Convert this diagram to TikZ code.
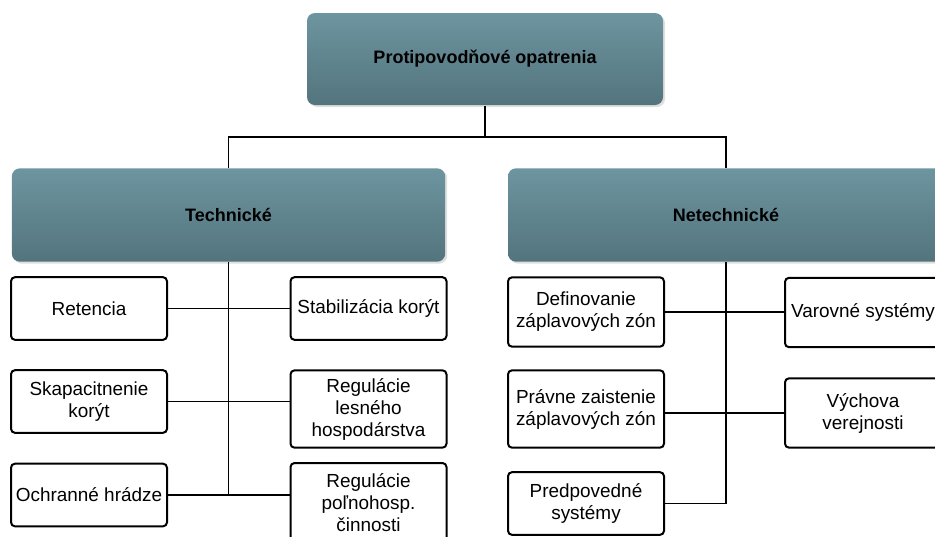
\documentclass[tikz,border=0pt]{standalone}
\usepackage{fontspec}
\setmainfont{Liberation Sans}
\usetikzlibrary{shadows}
\definecolor{headtop}{HTML}{6D95A0}
\definecolor{headbot}{HTML}{53747D}

\begin{document}
\begin{tikzpicture}[x=0.75pt, y=-0.75pt, line width=1pt]
    \tikzstyle{head}=[rounded corners=6pt, draw=none, top color=headtop, bottom color=headbot,
                      drop shadow={opacity=0.25, shadow xshift=1.5pt, shadow yshift=-1.5pt},
                      inner sep=0pt, font=\fontsize{13.5}{16}\selectfont\bfseries]
    \tikzstyle{leaf}=[rectangle, rounded corners=3pt, draw=black, line width=1.5pt, fill=white,
                      minimum width=117pt, inner sep=0pt, align=center,
                      font=\fontsize{14.2}{16.5}\selectfont]
    \tikzstyle{link}=[draw=black, line width=1pt]

    \useasboundingbox (0,0) rectangle (935,536);

    % Draw the top node
    \path node[head, minimum width=267pt, minimum height=69pt] (P) at (485,59) {Protipovodňové opatrenia};

    % Draw the two groups
    \path node[head, minimum width=325pt, minimum height=70pt] (T) at (228.5,215) {Technické};
    \path node[head, minimum width=327pt, minimum height=70pt] (N) at (726,215) {Netechnické};

    % Draw the technical measures
    \path node[leaf, minimum height=47pt] (T-1) at (89,308.5) {Retencia};
    \path node[leaf, minimum height=47pt] (T-2) at (89,401.5) {Skapacitnenie\\korýt};
    \path node[leaf, minimum height=47pt] (T-3) at (89,495) {Ochranné hrádze};
    \path node[leaf, minimum height=47pt] (T-4) at (368.5,308.5) {Stabilizácia korýt};
    \path node[leaf, minimum height=58pt] (T-5) at (368.5,409) {Regulácie\\lesného\\hospodárstva};
    \path node[leaf, minimum height=60pt] (T-6) at (368.5,503) {Regulácie\\poľnohosp.\\činnosti};

    % Draw the non-technical measures
    \path node[leaf, minimum height=52pt] (N-1) at (586,312) {Definovanie\\záplavových zón};
    \path node[leaf, minimum height=58pt] (N-2) at (586,409) {Právne zaistenie\\záplavových zón};
    \path node[leaf, minimum height=47pt] (N-3) at (586,503.5) {Predpovedné\\systémy};
    \path node[leaf, minimum height=52pt] (N-4) at (863,312.5) {Varovné systémy};
    \path node[leaf, minimum height=52pt] (N-5) at (863,413) {Výchova\\verejnosti};

    % Connect the top node with the groups
    \coordinate (J) at (485,137);
    \draw[link] (P.south) -- (J);
    \draw[link] (T.north) |- (J) -| (N.north);

    % Connect the technical measures
    \coordinate (T-end) at (T.south |- T-3.east);
    \draw[link] (T.south) -- (T-end);
    \draw[link] (T-1.east) -- (T-4.west);
    \draw[link] (T-2.east) -- (T-2.east -| T-5.west);
    \draw[link] (T-3.east) -- (T-3.east -| T-6.west);

    % Connect the non-technical measures
    \coordinate (N-end) at (N.south |- N-3.east);
    \coordinate (N-mid) at (N-2.east |- N-5.west);
    \draw[link] (N.south) -- (N-end);
    \draw[link] (N-1.east) -- (N-1.east -| N-4.west);
    \draw[link] (N-mid) -- (N-5.west);
    \draw[link] (N-3.east) -- (N-end);
\end{tikzpicture}
\end{document}
